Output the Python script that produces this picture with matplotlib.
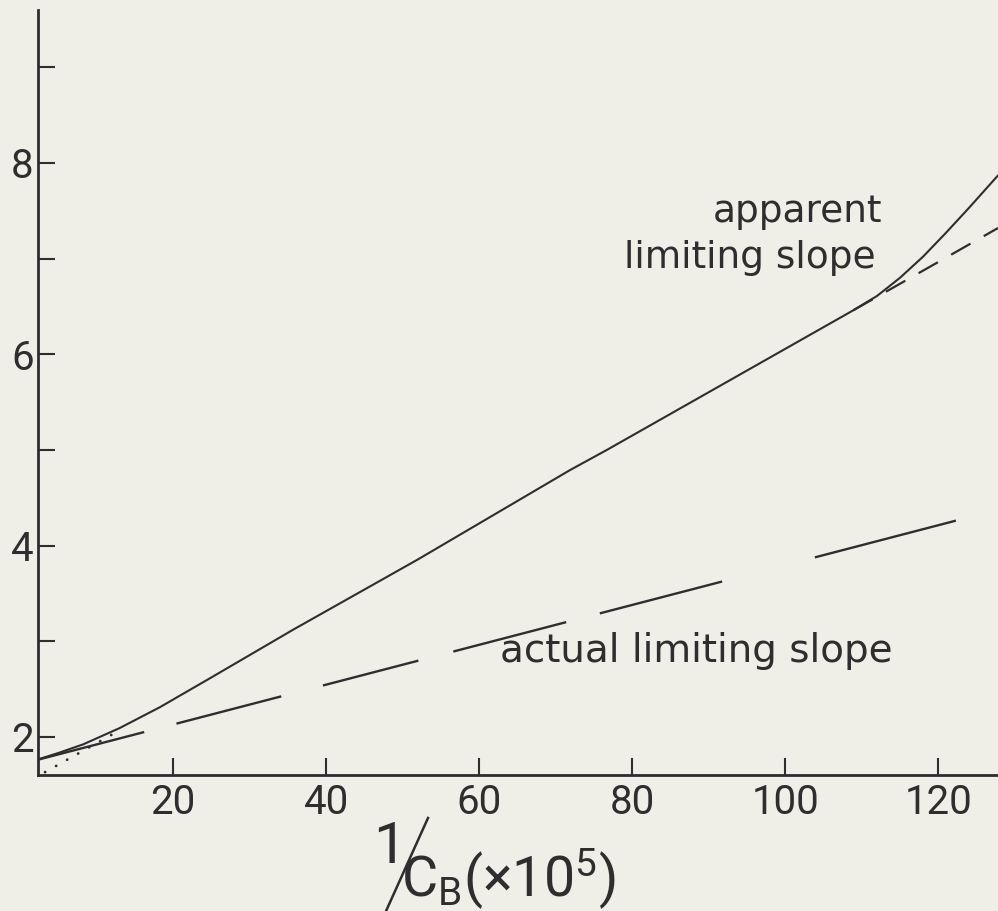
import matplotlib.pyplot as plt
from matplotlib.lines import Line2D

# curve values
x_apparent = [2.22, 5.0, 8.24, 13.0, 18.3, 25.0, 35.7, 51.9, 71.9, 76.7, 108.9,
              112.0, 115.0, 118.0, 121.0, 124.0, 127.8]
y_apparent = [1.76, 1.83, 1.92, 2.09, 2.31, 2.62, 3.12, 3.85, 4.79, 5.00, 6.46,
              6.61, 6.80, 7.02, 7.27, 7.53, 7.87]

# tangent extension of the straight part of the apparent curve
x_tangent = [108.9, 127.8]
y_tangent = [6.46, 7.32]

# dotted back-extrapolation towards the origin
x_extrap = [3.27, 12.4]
y_extrap = [1.63, 2.04]

# actual limiting slope
x_actual = [2.35, 122.3]
y_actual = [1.76, 4.26]

x_ticks = [20, 40, 60, 80, 100, 120]
y_major = [2, 4, 6, 8]
y_minor = [3, 5, 7, 9]

paper = '#efeee7'
ink = '#2e2e2e'
narrow = ['Roboto', 'DejaVu Sans']

plt.rcParams['lines.scale_dashes'] = False

W, H = 998, 911
fig = plt.figure(figsize=(W / 100, H / 100), dpi=100, facecolor=paper)
ax = fig.add_axes([38 / W, 1 - 775 / H, 1 - 38 / W, (775 - 10) / H])
ax.set_facecolor(paper)

ax.plot(x_apparent, y_apparent, color=ink, lw=1.5, solid_capstyle='round')
ax.plot(x_tangent, y_tangent, color=ink, lw=1.6, linestyle=(0, (16, 11)))
ax.plot(x_extrap, y_extrap, color=ink, lw=2.0, linestyle=(0, (0.1, 9)),
        dash_capstyle='round')
ax.plot(x_actual, y_actual, color=ink, lw=1.7,
        linestyle=(0, (79, 24, 78, 31, 71, 26, 84, 25, 91, 69, 106, 30)))

ax.set_xlim(2.35, 127.8)
ax.set_ylim(1.6, 9.6)

for side in ['top', 'right']:
    ax.spines[side].set_visible(False)
for side in ['left', 'bottom']:
    ax.spines[side].set_linewidth(2.0)
    ax.spines[side].set_color(ink)

ax.set_xticks(x_ticks)
ax.set_yticks(y_major)
ax.set_yticks(y_minor, minor=True)
ax.tick_params(which='both', direction='in', length=12, width=1.5, color=ink)
ax.tick_params(axis='y', pad=3)
ax.tick_params(axis='x', pad=6)
for lab in ax.get_xticklabels() + ax.get_yticklabels():
    lab.set_family(narrow)
    lab.set_fontsize(29)
    lab.set_color(ink)

# annotations
ax.text(112.7, 7.38, 'apparent', fontsize=27, color=ink, ha='right', va='baseline')
ax.text(111.8, 6.90, 'limiting slope', fontsize=27, color=ink, ha='right', va='baseline')
ax.text(62.7, 2.78, 'actual limiting slope', fontsize=28, color=ink, ha='left', va='baseline')

# axis label  1/C_B (x10^5)
fig.text(373 / W, 1 - 863 / H, '1', fontsize=42, family=narrow,
         color=ink, ha='left', va='baseline')
fig.add_artist(Line2D([428 / W, 382 / W], [1 - 818 / H, 1 - 920 / H], color=ink, lw=1.8))
fig.text(401 / W, 1 - 896 / H, r'$\mathregular{C_{B}(×10^{5})}$', fontsize=40,
         family=narrow, color=ink, ha='left', va='baseline')

fig.savefig('out.png', dpi=100, facecolor=paper)
